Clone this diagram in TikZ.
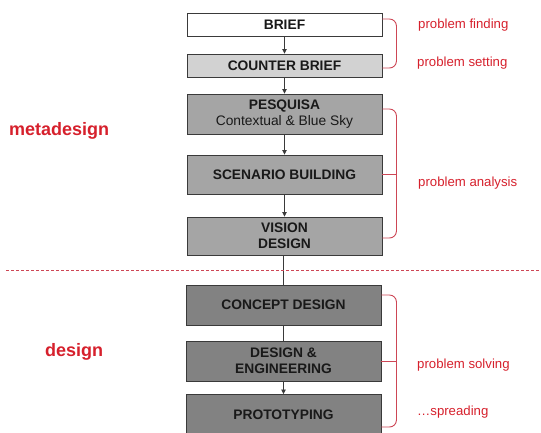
\documentclass[tikz,border=0pt]{standalone}
\usepackage{fontspec}
\setmainfont{Liberation Sans}
\usetikzlibrary{arrows.meta}
\definecolor{lab}{RGB}{214,32,44}
\definecolor{brk}{RGB}{205,70,85}
\definecolor{fillA}{RGB}{210,210,210}
\definecolor{fillB}{RGB}{165,165,165}
\definecolor{fillC}{RGB}{130,130,130}
\definecolor{edge}{RGB}{58,58,58}
\definecolor{txt}{RGB}{25,25,25}
\tikzset{
  box/.style={draw=edge, line width=0.9pt, minimum width=195pt, inner sep=0pt,
    align=center, text=txt, font=\fontsize{13.8}{16}\selectfont\bfseries},
  conn/.style={draw=edge, line width=0.8pt},
  arr/.style={conn, -{Triangle[width=4.5pt,length=4.5pt]}},
  brack/.style={draw=brk, line width=0.9pt, rounded corners=7pt},
  lbl/.style={anchor=west, text=lab, inner sep=0pt, font=\fontsize{13.2}{15}\selectfont},
  big/.style={anchor=west, text=lab, inner sep=0pt, font=\fontsize{18}{20}\selectfont\bfseries}
}
\begin{document}
\begin{tikzpicture}[x=1pt,y=-1pt]
\useasboundingbox (0,0) rectangle (541,432);
% boxes
\node[box, fill=white, minimum height=23pt] (brief) at (284.5,24.5) {BRIEF};
\node[box, fill=fillA, minimum height=23pt] (counter) at (284.5,65.5) {COUNTER BRIEF};
\node[box, fill=fillB, minimum height=40pt] (pesq) at (284.5,114) {PESQUISA\\{\mdseries Contextual \& Blue Sky}};
\node[box, fill=fillB, minimum height=39pt] (scen) at (284.5,174.5) {SCENARIO BUILDING};
\node[box, fill=fillB, minimum height=38pt] (vision) at (284.5,236) {VISION\\DESIGN};
\node[box, fill=fillC, minimum height=40pt] (concept) at (283.5,305) {CONCEPT DESIGN};
\node[box, fill=fillC, minimum height=40pt] (deseng) at (283.5,361) {DESIGN \&\\ENGINEERING};
\node[box, fill=fillC, minimum height=40pt, text depth=0pt] (proto) at (283.5,414.5) {PROTOTYPING};
% connectors
\draw[arr] (brief) -- (counter);
\draw[arr] (counter) -- (pesq);
\draw[arr] (pesq) -- (scen);
\draw[arr] (scen) -- (vision);
\draw[conn] (vision.south -| concept.north) -- (concept.north);
\draw[conn] (concept) -- (deseng);
\draw[arr] (deseng) -- (proto);
% dashed separator
\coordinate (dl) at (6,270);
\coordinate (dr) at (541,270);
\draw[brk, line width=0.8pt, dash pattern=on 3pt off 2pt] (dl) -- (dr);
% brackets
\draw[brack] ([yshift=5.5pt]brief.east) -- ++(14,0) |- ([yshift=-2.5pt]counter.east);
\draw[brack] ([yshift=5pt]pesq.east) -- ++(14,0) |- ([yshift=-2pt]vision.east);
\draw[brk, line width=0.9pt] (scen.east) -- ++(14,0);
\draw[brack] ([yshift=10pt]concept.east) -- ++(15,0) |- ([yshift=-12.5pt]proto.east);
\draw[brk, line width=0.9pt] (deseng.east) -- ++(15,0);
% labels
\node[lbl] (l1) at (418,25) {problem finding};
\node[lbl] (l2) at (417,63) {problem setting};
\node[lbl] (l3) at (418,183) {problem analysis};
\node[lbl] (l4) at (417,365) {problem solving};
\node[lbl] (l5) at (417,412) {\dots spreading};
\node[big] (meta) at (9,131) {metadesign};
\node[big] (des) at (45,352) {design};
\end{tikzpicture}
\end{document}
